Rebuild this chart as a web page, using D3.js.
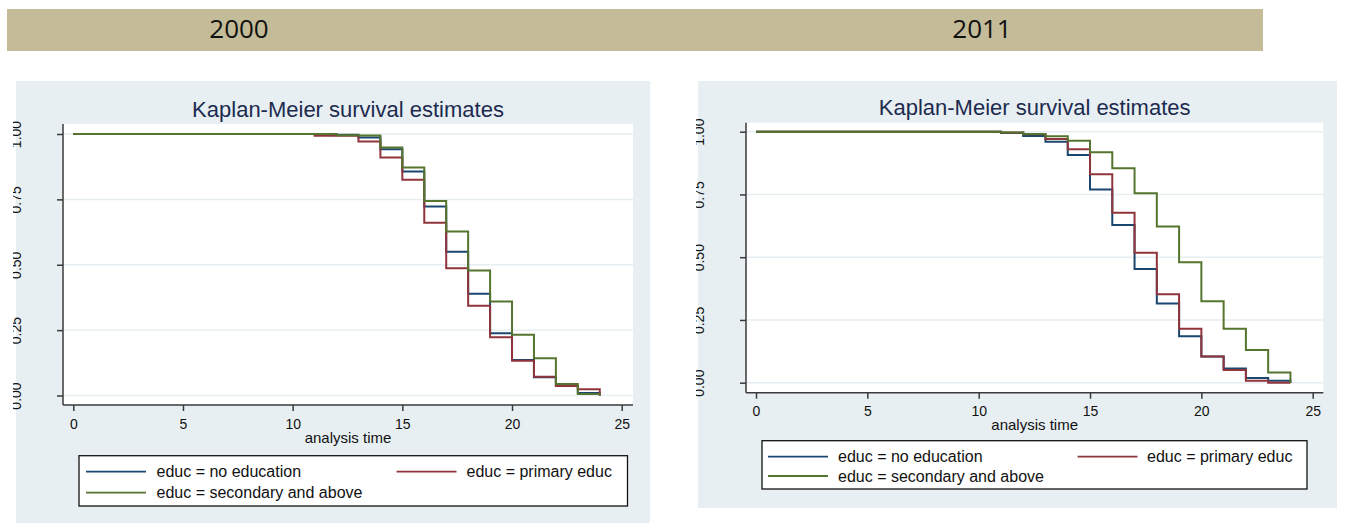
<!DOCTYPE html>
<html>
<head>
<meta charset="utf-8">
<script src="https://cdn.jsdelivr.net/npm/d3@7"></script>
<style>
  html, body { margin: 0; padding: 0; background: #ffffff; }
  svg { display: block; }
</style>
</head>
<body>
<svg id="chart" width="1347" height="523"></svg>
<script>
// ---------------- DATA ----------------
const panelYears = ["2000", "2011"];
const chartTitle = "Kaplan-Meier survival estimates";
const xAxisTitle = "analysis time";
const times = [0,1,2,3,4,5,6,7,8,9,10,11,12,13,14,15,16,17,18,19,20,21,22,23,24];
const xTicks = [0, 5, 10, 15, 20, 25];
const yTicks = [0, 0.25, 0.5, 0.75, 1];
const seriesNames = ["educ = no education", "educ = primary educ", "educ = secondary and above"];

// 2000
const noEduc2000    = [1,1,1,1,1,1,1,1,1,1,1,1,0.997,0.987,0.942,0.857,0.723,0.550,0.389,0.238,0.136,0.070,0.036,0.010,0];
const primary2000   = [1,1,1,1,1,1,1,1,1,1,1,0.993,0.993,0.971,0.910,0.825,0.661,0.487,0.343,0.223,0.133,0.072,0.036,0.024,0];
const secondary2000 = [1,1,1,1,1,1,1,1,1,1,1,1,0.995,0.994,0.948,0.872,0.744,0.627,0.478,0.359,0.232,0.142,0.044,0.006,0];
// 2011
const noEduc2011    = [1,1,1,1,1,1,1,1,1,1,1,0.995,0.983,0.960,0.907,0.770,0.628,0.453,0.316,0.185,0.104,0.057,0.019,0.008,0];
const primary2011   = [1,1,1,1,1,1,1,1,1,1,1,0.997,0.990,0.971,0.930,0.830,0.677,0.518,0.352,0.215,0.104,0.051,0.008,0.000,0];
const secondary2011 = [1,1,1,1,1,1,1,1,1,1,1,0.997,0.991,0.982,0.964,0.918,0.854,0.755,0.622,0.480,0.325,0.215,0.130,0.041,0];

// ---------------- STYLE / LAYOUT ----------------
const seriesColors = ["#1a476f", "#90353b", "#55752f"];
const FONT = "'Liberation Sans', Arial, sans-serif";
const svg = d3.select("#chart");

// header bar
svg.append("rect").attr("x", 7).attr("y", 9).attr("width", 1256).attr("height", 42).attr("fill", "#c4bb98");
const headerX = [239, 982];
panelYears.forEach((yr, i) => {
  svg.append("text").attr("x", headerX[i]).attr("y", 38).attr("text-anchor", "middle")
    .attr("font-family", "'Open Sans', 'Noto Sans', sans-serif").attr("font-size", 26)
    .attr("fill", "#111").text(yr);
});

const panels = [
  {
    id: "p0", data: [noEduc2000, primary2000, secondary2000],
    bg: [16, 81, 634, 442],
    plot: {l: 63, r: 633, t: 124, b: 405},
    xr: [73.3, 621.7], yr: [395.5, 134],
    titleY: 117, xLabY: 429, xTitleY: 443, yLabX: 20.5, clipX: 13,
    leg: {x0: 79, y0: 455.7, x1: 627.5, y1: 506, rows: [471.7, 492.7],
          c1: [86, 146, 156.5], c2: [396.6, 456.5, 466.5]}
  },
  {
    id: "p1", data: [noEduc2011, primary2011, secondary2011],
    bg: [698, 81, 639, 427],
    plot: {l: 746, r: 1323.3, t: 122.7, b: 392.7},
    xr: [756, 1312.7], yr: [382.7, 131.7],
    titleY: 115, xLabY: 416, xTitleY: 430, yLabX: 703.5, clipX: 696,
    leg: {x0: 762, y0: 440.7, x1: 1307, y1: 489, rows: [456.7, 476],
          c1: [768, 828, 838], c2: [1077.6, 1137.5, 1147]}
  }
];

panels.forEach(p => {
  const g = svg.append("g");
  const defs = svg.append("defs");
  defs.append("clipPath").attr("id", "clip-" + p.id)
    .append("rect").attr("x", p.clipX).attr("y", 0).attr("width", 1347).attr("height", 523);

  // panel background
  g.append("rect").attr("x", p.bg[0]).attr("y", p.bg[1]).attr("width", p.bg[2]).attr("height", p.bg[3])
    .attr("fill", "#e8eff2");
  // plot region
  g.append("rect").attr("x", p.plot.l).attr("y", p.plot.t)
    .attr("width", p.plot.r - p.plot.l).attr("height", p.plot.b - p.plot.t).attr("fill", "#ffffff");

  const x = d3.scaleLinear().domain([0, 25]).range(p.xr);
  const y = d3.scaleLinear().domain([0, 1]).range(p.yr);

  // grid
  g.append("g").selectAll("line").data(yTicks).join("line")
    .attr("x1", p.plot.l).attr("x2", p.plot.r)
    .attr("y1", d => y(d)).attr("y2", d => y(d))
    .attr("stroke", "#e6eef1").attr("stroke-width", 1.5);

  // title
  g.append("text").attr("x", (p.plot.l + p.plot.r) / 2).attr("y", p.titleY)
    .attr("text-anchor", "middle").attr("font-family", FONT).attr("font-size", 22)
    .attr("fill", "#1c2b4f").text(chartTitle);

  // curves
  const line = d3.line().curve(d3.curveStepAfter).x((d, i) => x(times[i])).y(d => y(d));
  p.data.forEach((vals, k) => {
    g.append("path").datum(vals).attr("d", line)
      .attr("fill", "none").attr("stroke", seriesColors[k]).attr("stroke-width", 2)
      .attr("stroke-linejoin", "miter");
  });

  // x axis
  const xa = g.append("g").attr("transform", `translate(0,${p.plot.b})`)
    .call(d3.axisBottom(x).tickValues(xTicks).tickSize(6).tickSizeOuter(0).tickFormat(d3.format("d")));
  xa.attr("font-family", null).attr("font-size", null);
  xa.select(".domain").attr("d", `M${p.plot.l},0H${p.plot.r}`).attr("stroke", "#3a3a3a").attr("stroke-width", 1.5);
  xa.selectAll(".tick line").attr("stroke", "#3a3a3a").attr("stroke-width", 1.5);
  xa.selectAll(".tick text").attr("y", p.xLabY - p.plot.b).attr("dy", 0)
    .attr("font-family", FONT).attr("font-size", 14).attr("fill", "#111");

  g.append("text").attr("x", (p.plot.l + p.plot.r) / 2).attr("y", p.xTitleY)
    .attr("text-anchor", "middle").attr("font-family", FONT).attr("font-size", 15)
    .attr("fill", "#111").text(xAxisTitle);

  // y axis (clipped wrapper: the labels are cut at the left in the reference)
  const yw = g.append("g").attr("clip-path", `url(#clip-${p.id})`);
  const ya = yw.append("g").attr("transform", `translate(${p.plot.l},0)`)
    .call(d3.axisLeft(y).tickValues(yTicks).tickSize(6).tickSizeOuter(0).tickFormat(d3.format(".2f")));
  ya.attr("font-family", null).attr("font-size", null);
  ya.select(".domain").attr("d", `M0,${p.plot.t}V${p.plot.b}`).attr("stroke", "#3a3a3a").attr("stroke-width", 1.5);
  ya.selectAll(".tick line").attr("stroke", "#3a3a3a").attr("stroke-width", 1.5);
  ya.selectAll(".tick text")
    .attr("x", 0).attr("y", 0).attr("dy", 0)
    .attr("text-anchor", "middle")
    .attr("transform", `translate(${p.yLabX - p.plot.l},0) rotate(-90)`)
    .attr("font-family", FONT).attr("font-size", 14).attr("fill", "#111");

  // legend
  const L = p.leg;
  const lg = g.append("g");
  lg.append("rect").attr("x", L.x0).attr("y", L.y0).attr("width", L.x1 - L.x0).attr("height", L.y1 - L.y0)
    .attr("fill", "#ffffff").attr("stroke", "#111").attr("stroke-width", 1.3);
  const entries = [
    {col: L.c1, row: L.rows[0], k: 0},
    {col: L.c2, row: L.rows[0], k: 1},
    {col: L.c1, row: L.rows[1], k: 2}
  ];
  entries.forEach(e => {
    lg.append("line").attr("x1", e.col[0]).attr("x2", e.col[1]).attr("y1", e.row).attr("y2", e.row)
      .attr("stroke", seriesColors[e.k]).attr("stroke-width", 1.8);
    lg.append("text").attr("x", e.col[2]).attr("y", e.row + 5.5)
      .attr("font-family", FONT).attr("font-size", 16).attr("fill", "#111").text(seriesNames[e.k]);
  });
});
</script>
</body>
</html>
